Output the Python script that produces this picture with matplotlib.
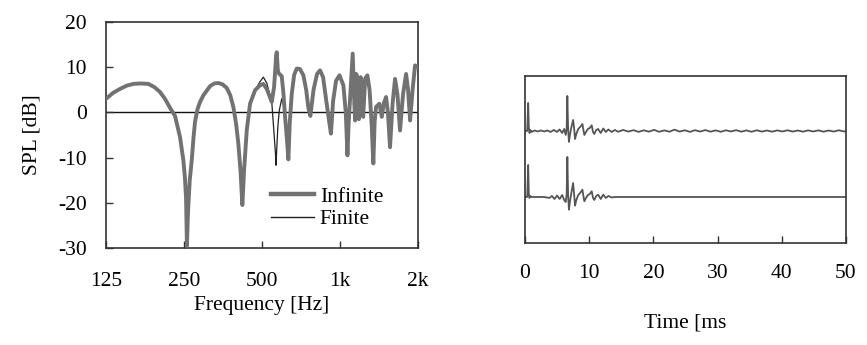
import matplotlib
matplotlib.use("Agg")
import matplotlib.pyplot as plt
from matplotlib.lines import Line2D

plt.rcParams['font.family'] = ['Liberation Serif', 'DejaVu Serif']
plt.rcParams['axes.unicode_minus'] = False

# ---------------- data: frequency response ----------------
freq_hz = [125, 133, 141.6, 150, 159.3, 170, 182, 192, 202, 211,
           220.8, 230.8, 241.3, 248.5, 252, 254.5, 256.5, 259, 263, 267.7,
           272, 275.7, 282, 288.2, 297, 305.9, 315, 327, 339, 352,
           365.3, 377, 387.4, 397, 405, 413, 419.7, 426, 436.4, 449.4,
           469.9, 491.2, 505.8, 521.3, 535, 545, 556.3, 563, 566.3, 569.8,
           575, 578, 583, 595.7, 605, 613.5, 624, 631.7, 640, 651,
           665, 680.7, 700, 721.8, 740, 754.6, 768, 790, 815, 837,
           860, 885, 905, 922, 940, 965, 995, 1030, 1052, 1068,
           1080, 1093, 1119, 1135, 1143, 1155, 1170, 1182, 1200, 1215,
           1228, 1250, 1275, 1300, 1325, 1344, 1360, 1377, 1418, 1449,
           1475, 1505, 1530, 1559, 1595, 1630, 1665, 1704, 1750, 1798,
           1830, 1863, 1905, 1947, 2000]

infinite_db = [3.0, 4.3, 5.2, 5.9, 6.3, 6.4, 6.3, 5.6, 4.5, 3.0,
               1.0, -0.8, -5.5, -10.6, -14.5, -19.0, -29.5, -22.0, -15.0, -10.6,
               -5.5, -2.0, 0.8, 2.3, 3.8, 4.8, 5.8, 6.4, 6.5, 6.2,
               5.4, 3.8, 1.2, -2.5, -6.9, -13.0, -20.5, -13.0, -4.0, 1.9,
               4.9, 6.0, 6.3, 5.2, 3.5, 2.3, 5.6, 10.0, 12.5, 13.3,
               9.5, 8.8, 8.5, 8.0, 4.0, -1.0, -6.0, -10.4, -2.0, 4.1,
               8.3, 9.7, 9.6, 8.2, 5.0, 1.0, -0.8, 5.0, 8.5, 9.3,
               7.8, 2.5, -1.5, -4.7, 2.5, 7.0, 8.2, 6.0, 0.0, -9.5,
               -2.0, 3.0, 13.0, 2.0, -1.8, 8.5, 7.0, -1.5, 7.8, 6.0,
               -1.0, 7.5, 8.2, 5.0, -3.0, -11.3, -2.0, 1.2, 1.9, -1.0,
               2.0, 3.4, 0.0, -7.7, 2.0, 7.4, 4.0, -4.0, 4.0, 8.5,
               5.0, -1.8, 5.0, 10.4, 10.0]

finite_db = [3.0, 4.3, 5.2, 5.9, 6.3, 6.4, 6.3, 5.6, 4.5, 3.0,
             1.0, -0.8, -5.5, -10.6, -14.5, -19.0, -29.5, -22.0, -15.0, -10.6,
             -5.5, -2.0, 0.8, 2.3, 3.8, 4.8, 5.8, 6.4, 6.5, 6.2,
             5.4, 3.8, 1.2, -2.5, -6.9, -13.0, -20.5, -13.0, -4.0, 1.9,
             4.9, 6.8, 7.8, 6.5, 4.0, 2.3, -4.7, -9.0, -11.7, -8.0,
             -3.5, -1.8, 0.5, 3.0, 1.5, -1.0, -6.0, -10.4, -2.0, 4.1,
             8.3, 9.7, 9.6, 8.2, 5.0, 1.0, -0.8, 5.0, 8.5, 9.3,
             7.8, 2.5, -1.5, -4.7, 2.5, 7.0, 8.2, 6.0, 0.0, -9.5,
             -2.0, 3.0, 13.0, 2.0, -1.8, 8.5, 7.0, -1.5, 7.8, 6.0,
             -1.0, 7.5, 8.2, 5.0, -3.0, -11.3, -2.0, 1.2, 1.9, -1.0,
             2.0, 3.4, 0.0, -7.7, 2.0, 7.4, 4.0, -4.0, 4.0, 8.5,
             5.0, -1.8, 5.0, 10.4, 10.0]

freq_ticks = [125, 250, 500, 1000, 2000]
freq_tick_labels = ['125', '250', '500', '1k', '2k']
spl_ticks = [-30, -20, -10, 0, 10, 20]
series_labels = ['Infinite', 'Finite']

# ---------------- data: impulse responses (relative amplitude) ----------------
t_top_ms = [0, 0.35, 0.5, 0.6, 0.7, 0.85, 1.0, 1.5, 2.0, 2.5,
            3.0, 3.5, 4.0, 4.5, 5.0, 5.4, 5.8, 6.1, 6.35, 6.5,
            6.6, 6.72, 6.85, 7.0, 7.2, 7.5, 7.65, 7.8, 8.0, 8.3,
            8.6, 8.95, 9.1, 9.25, 9.5, 9.8, 10.1, 10.4, 10.6, 10.8,
            11.1, 11.4, 11.8, 12.2, 12.6, 13.0, 13.5, 14.0,
            14.5, 15.3, 16.1, 16.9, 17.7, 18.5, 19.3, 20.1, 20.9, 21.7,
            22.5, 23.3, 24.1, 24.9, 25.7, 26.5, 27.3, 28.1, 28.9, 29.7,
            30.5, 31.3, 32.1, 32.9, 33.7, 34.5, 35.3, 36.1, 36.9, 37.7,
            38.5, 39.3, 40.1, 40.9, 41.7, 42.5, 43.3, 44.1, 44.9, 45.7,
            46.5, 47.3, 48.1, 48.9, 49.7, 50]
top_amp = [0, 0, 28, 4, -2, 1, -1, 0.5, -0.5, 0.5,
           -0.5, 0.5, -1, 1, -1, 1.5, -2, 2, -4, 3,
           35, 2, -11, -4, 3, 11, 3, -8, -3, 2,
           4, 7, 1, -4, -1, 2, 3, 5.7, -1, -3,
           1, 2, -2, 2.5, -1, 1.5, -1, 1,
           -0.8, 1.0, -0.6, 0.8, -0.9, 0.7, -0.7, 1.1, -0.8, 0.6,
           -0.7, 1.3, -0.6, 0.7, -0.9, 0.8, -0.6, 0.9, -0.7, 0.6,
           -0.8, 0.7, -0.5, 0.8, -0.7, 0.6, -0.8, 0.7, -0.6, 0.5,
           -0.7, 0.6, -0.5, 0.7, -0.6, 0.5, -0.7, 0.6, -0.5, 0.6,
           -0.7, 0.5, -0.6, 0.7, -0.5, 0.0]

t_bot_ms = [0, 0.35, 0.5, 0.6, 0.7, 0.85, 1.0, 2.0, 3.0, 3.8,
            4.2, 4.6, 5.0, 5.4, 5.8, 6.1, 6.35, 6.5, 6.6, 6.72,
            6.85, 7.0, 7.2, 7.5, 7.65, 7.8, 8.0, 8.3, 8.6, 8.95,
            9.1, 9.25, 9.5, 9.8, 10.1, 10.4, 10.6, 10.8, 11.1, 11.4,
            11.8, 12.2, 12.6, 13.0, 13.5, 14.0, 50]
bot_amp = [0, 0, 32, 3, -1, 1, 0, 0, 0, -1,
           1, -2, 1.5, -2, 2, -3, -5, 3, 40, 2,
           -12.7, -5, 3, 14, 3, -8.7, -3, 2, 4, 7.3,
           1, -4.3, -1, 2, 3, 5.7, -1, -3, 1, 2.3,
           -2, 2.3, -1, 1, -0.5, 0, 0]

time_ticks = [0, 10, 20, 30, 40, 50]
top_offset = 66
bot_offset = 0

# ---------------- figure ----------------
fig = plt.figure(figsize=(8.67, 3.45), dpi=100)
fs = 15.5
spine_c = '#333333'
gray_thick = '#727272'

ax1 = fig.add_axes([0.1223, 0.2812, 0.3599, 0.6551])
ax1.plot(freq_hz, finite_db, color='#222222', lw=0.9, zorder=2)
ax1.plot(freq_hz, infinite_db, color=gray_thick, lw=2.8, zorder=3,
         solid_joinstyle='round')
ax1.axhline(0, color='#111111', lw=1.0, zorder=1)
ax1.set_xscale('log')
ax1.set_xlim(125, 2000)
ax1.set_ylim(-30, 20)
ax1.set_xticks(freq_ticks)
ax1.set_xticklabels(freq_tick_labels)
ax1.xaxis.set_minor_locator(matplotlib.ticker.NullLocator())
ax1.set_yticks(spl_ticks)
ax1.tick_params(direction='in', length=5, width=1.0, color=spine_c,
                labelsize=fs, pad=17)
ax1.tick_params(axis='y', pad=14)
ax1.set_xlabel('Frequency [Hz]', fontsize=fs, labelpad=4)
ax1.set_ylabel('SPL [dB]', fontsize=fs, labelpad=12)
for s in ax1.spines.values():
    s.set_color(spine_c)
    s.set_linewidth(1.2)

handles = [Line2D([], [], color=gray_thick, lw=3.2),
           Line2D([], [], color='#222222', lw=1.0)]
ax1.legend(handles, series_labels, loc='upper left', bbox_to_anchor=(0.53, 0.27),
           frameon=False, fontsize=fs, handlelength=2.0, handletextpad=0.25,
           labelspacing=0.1, borderpad=0, borderaxespad=0)

ax2 = fig.add_axes([0.6055, 0.2957, 0.3702, 0.4841])
ax2.plot(t_top_ms, [v + top_offset for v in top_amp], color='#555555', lw=1.3)
ax2.plot(t_bot_ms, [v + bot_offset for v in bot_amp], color='#555555', lw=1.3)
ax2.set_xlim(0, 50)
ax2.set_ylim(-46, 121)
ax2.set_xticks(time_ticks)
ax2.set_yticks([])
ax2.tick_params(axis='x', direction='in', length=5, width=1.0, color=spine_c,
                labelsize=fs, pad=15)
ax2.set_xlabel('Time [ms', fontsize=fs, labelpad=22)
for s in ax2.spines.values():
    s.set_color(spine_c)
    s.set_linewidth(1.2)

fig.savefig('out.png', dpi=100)
